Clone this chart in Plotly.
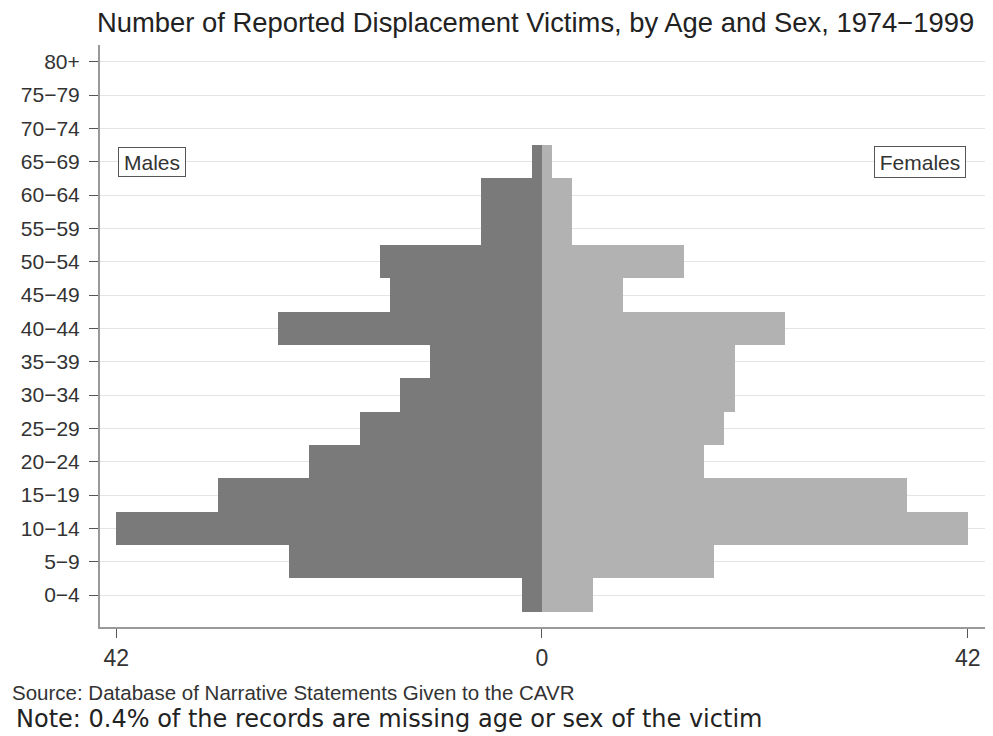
import plotly.graph_objects as go

age_groups = ["0\u22124", "5\u22129", "10\u221214", "15\u221219", "20\u221224", "25\u221229",
              "30\u221234", "35\u221239", "40\u221244", "45\u221249", "50\u221254", "55\u221259",
              "60\u221264", "65\u221269", "70\u221274", "75\u221279", "80+"]
males = [2, 25, 42, 32, 23, 18, 14, 11, 26, 15, 16, 6, 6, 1, 0, 0, 0]
females = [5, 17, 42, 36, 16, 18, 19, 19, 24, 8, 14, 3, 3, 1, 0, 0, 0]
x_tickvals = [-42, 0, 42]
x_ticktext = ["42", "0", "42"]

pos = list(range(len(age_groups)))
FONT = "Liberation Sans, Arial, sans-serif"

fig = go.Figure()
fig.add_trace(go.Bar(y=pos, x=[-v for v in males], orientation="h", width=1,
                     marker=dict(color="#7a7a7a", line=dict(width=0)), name="Males"))
fig.add_trace(go.Bar(y=pos, x=females, orientation="h", width=1,
                     marker=dict(color="#b2b2b2", line=dict(width=0)), name="Females"))

fig.update_layout(
    width=993, height=736,
    margin=dict(l=92, r=16, t=37, b=117, autoexpand=False),
    paper_bgcolor="white", plot_bgcolor="white",
    barmode="overlay", bargap=0, showlegend=False,
    font=dict(family=FONT, color="#333333"),
    title=dict(text="Number of Reported Displacement Victims, by Age and Sex, 1974\u22121999",
               x=89/993, xanchor="left", xref="container", y=1-14/736, yanchor="middle",
               font=dict(size=27.4, color="#222222", family=FONT)),
)
fig.update_yaxes(range=[-0.96, 16.5], tickvals=pos, ticktext=age_groups, automargin=False,
                 ticks="outside", ticklen=9, tickcolor="#555555", tickwidth=1,
                 ticklabelstandoff=5,
                 tickfont=dict(size=21, color="#333333"),
                 showgrid=True, gridcolor="#e4e4e4", gridwidth=1,
                 showline=True, linecolor="#999999", linewidth=2, zeroline=False)
fig.update_xaxes(range=[-43.6, 43.7], tickvals=x_tickvals, ticktext=x_ticktext, automargin=False,
                 ticks="outside", ticklen=9, tickcolor="#555555", tickwidth=1,
                 tickfont=dict(size=23, color="#333333"),
                 showgrid=False, zeroline=False,
                 showline=True, linecolor="#999999", linewidth=2)

fig.add_annotation(text="Males", xref="x", yref="y", x=-41.8, y=13, xanchor="left",
                   showarrow=False, font=dict(size=21, color="#333333"), width=64, height=26,
                   bordercolor="#555555", borderwidth=1, borderpad=1, bgcolor="white")
fig.add_annotation(text="Females", xref="x", yref="y", x=41.8, y=13, xanchor="right",
                   showarrow=False, font=dict(size=21, color="#333333"), width=88, height=28,
                   bordercolor="#555555", borderwidth=1, borderpad=1, bgcolor="white")
fig.add_annotation(text="Source: Database of Narrative Statements Given to the CAVR",
                   xref="paper", yref="paper", x=-90/885, y=-(692-627)/582, xanchor="left",
                   yanchor="middle", showarrow=False, font=dict(size=20.5, color="#333333"))
fig.add_annotation(text="Note: 0.4% of the records are missing age or sex of the victim",
                   xref="paper", yref="paper", x=-86/885, y=-(719-627)/582, xanchor="left",
                   yanchor="middle", showarrow=False,
                   font=dict(size=24, color="#222222", family="DejaVu Sans, sans-serif"))

fig.write_html("out.html")
